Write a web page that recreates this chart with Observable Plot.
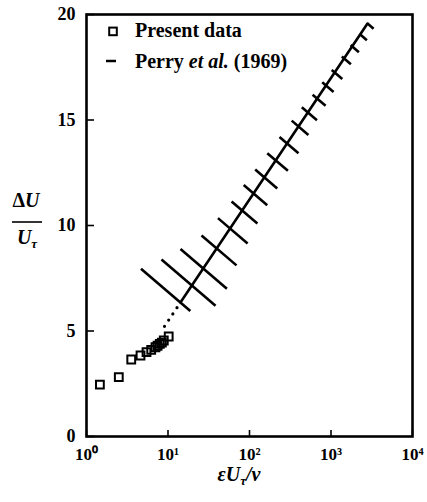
<!DOCTYPE html>
<html>
<head>
<meta charset="utf-8">
<script src="https://cdn.jsdelivr.net/npm/d3@7"></script>
<script src="https://cdn.jsdelivr.net/npm/@observablehq/plot@0.6"></script>
<style>
  html, body { margin: 0; padding: 0; background: #fff; }
  #chart { width: 427px; height: 502px; }
</style>
</head>
<body>
<div id="chart"></div>
<script>
// Present data: roughness Reynolds number and velocity shift
const presentX = [1.46, 2.49, 3.54, 4.60, 5.45, 6.22, 7.02, 7.45, 7.93, 8.40, 8.88, 10.2];
const presentY = [2.46, 2.81, 3.65, 3.84, 4.00, 4.11, 4.23, 4.30, 4.39, 4.45, 4.55, 4.74];

// Perry et al. (1969): log-law line, its dotted continuation, and the cross bars along it
const perryLineX = [14.2, 2805];
const perryLineY = [6.35, 19.57];
const perryDotX = [9.06, 14.2];
const perryDotY = [5.22, 6.35];
const barX1 = [4.66, 8.32, 14.23, 25.8, 41.0, 60.3, 84.9, 117.5, 165.3, 233.4, 329.5, 438.2, 594.8, 779.8, 1020, 1357, 1740, 2249, 2805];
const barY1 = [7.95, 8.39, 8.89, 9.53, 10.35, 11.14, 11.92, 12.65, 13.42, 14.19, 14.97, 15.60, 16.20, 16.79, 17.37, 18.01, 18.55, 19.08, 19.57];
const barX2 = [18.8, 38.3, 52.8, 69.3, 94.8, 125, 165, 219, 296, 399, 528, 673, 858, 1076, 1376, 1754, 2199, 2757, 3332];
const barY2 = [5.95, 6.20, 7.00, 8.11, 9.15, 10.10, 10.96, 11.75, 12.59, 13.42, 14.29, 14.99, 15.68, 16.33, 16.94, 17.64, 18.21, 18.78, 19.33];

// Axes
const xTicks = [1, 10, 100, 1000, 10000];
const xTickLabels = ["10⁰", "10¹", "10²", "10³", "10⁴"];
const yTicks = [0, 5, 10, 15, 20];

const present = presentX.map((x, i) => ({x, y: presentY[i]}));
const perryLine = perryLineX.map((x, i) => ({x, y: perryLineY[i]}));
const perryDots = perryDotX.map((x, i) => ({x, y: perryDotY[i]}));
const bars = barX1.map((x1, i) => ({x1, y1: barY1[i], x2: barX2[i], y2: barY2[i]}));

const serif = "'Liberation Serif', 'Times New Roman', serif";

const chart = Plot.plot({
  width: 427,
  height: 502,
  marginLeft: 86,
  marginRight: 15,
  marginTop: 14,
  marginBottom: 66,
  style: {fontFamily: serif, fontWeight: "bold", color: "black", background: "white"},
  x: {type: "log", domain: [1, 10000]},
  y: {domain: [0, 20]},
  marks: [
    // inward tick marks
    Plot.axisX({ticks: xTicks, tickSize: 6, dy: -6, strokeWidth: 1.6, tickFormat: () => "", label: null}),
    Plot.axisY({ticks: yTicks, tickSize: 8, dx: 8, strokeWidth: 1.6, tickFormat: () => "", label: null}),
    // tick labels
    Plot.axisX({ticks: xTicks, tickSize: 0, tickPadding: 11, fontSize: 17, fontWeight: "bold",
      tickFormat: d => xTickLabels[xTicks.indexOf(d)], label: null}),
    Plot.axisY({ticks: yTicks, tickSize: 0, tickPadding: 11, fontSize: 18, fontWeight: "bold", label: null}),
    Plot.frame({strokeWidth: 2.6}),
    Plot.line(perryDots, {x: "x", y: "y", strokeWidth: 3.2, strokeDasharray: "0,7.5", strokeLinecap: "round"}),
    Plot.line(perryLine, {x: "x", y: "y", strokeWidth: 2.6}),
    Plot.link(bars, {x1: "x1", y1: "y1", x2: "x2", y2: "y2", strokeWidth: 2.6}),
    Plot.dot(present, {x: "x", y: "y", symbol: "square", r: 4.4, stroke: "black", strokeWidth: 2, fill: "none"})
  ]
});

document.getElementById("chart").appendChild(chart);

// Legend and axis titles
const svg = d3.select(chart);
const g = svg.append("g").attr("font-family", serif).attr("font-weight", "bold")
  .attr("fill", "black").attr("text-anchor", "start");

g.append("rect").attr("x", 109.2).attr("y", 27.6).attr("width", 7.6).attr("height", 7.6)
  .attr("fill", "none").attr("stroke", "black").attr("stroke-width", 2);
g.append("text").attr("x", 135).attr("y", 37).attr("font-size", 20).text("Present data");

g.append("line").attr("x1", 106).attr("x2", 116).attr("y1", 61).attr("y2", 61)
  .attr("stroke", "black").attr("stroke-width", 2.5);
const perryText = g.append("text").attr("x", 135).attr("y", 68).attr("font-size", 20);
perryText.append("tspan").text("Perry ");
perryText.append("tspan").attr("font-style", "italic").text("et al.");
perryText.append("tspan").text(" (1969)");

// y-axis title as a fraction
const yTop = g.append("text").attr("x", 26).attr("y", 207).attr("font-size", 20).attr("text-anchor", "middle");
yTop.append("tspan").text("Δ");
yTop.append("tspan").attr("font-style", "italic").text("U");
g.append("line").attr("x1", 12).attr("x2", 42).attr("y1", 222).attr("y2", 222)
  .attr("stroke", "black").attr("stroke-width", 1.6);
const yBot = g.append("text").attr("x", 27).attr("y", 244).attr("font-size", 20)
  .attr("text-anchor", "middle").attr("font-style", "italic");
yBot.append("tspan").text("U");
yBot.append("tspan").attr("font-size", 13).attr("dy", 4).text("τ");

// x-axis title
const xt = g.append("text").attr("x", 239).attr("y", 481).attr("font-size", 20)
  .attr("text-anchor", "middle").attr("font-style", "italic");
xt.append("tspan").text("εU");
xt.append("tspan").attr("font-size", 13).attr("dy", 4).text("τ");
xt.append("tspan").attr("dy", -4).text("/ν");
</script>
</body>
</html>
